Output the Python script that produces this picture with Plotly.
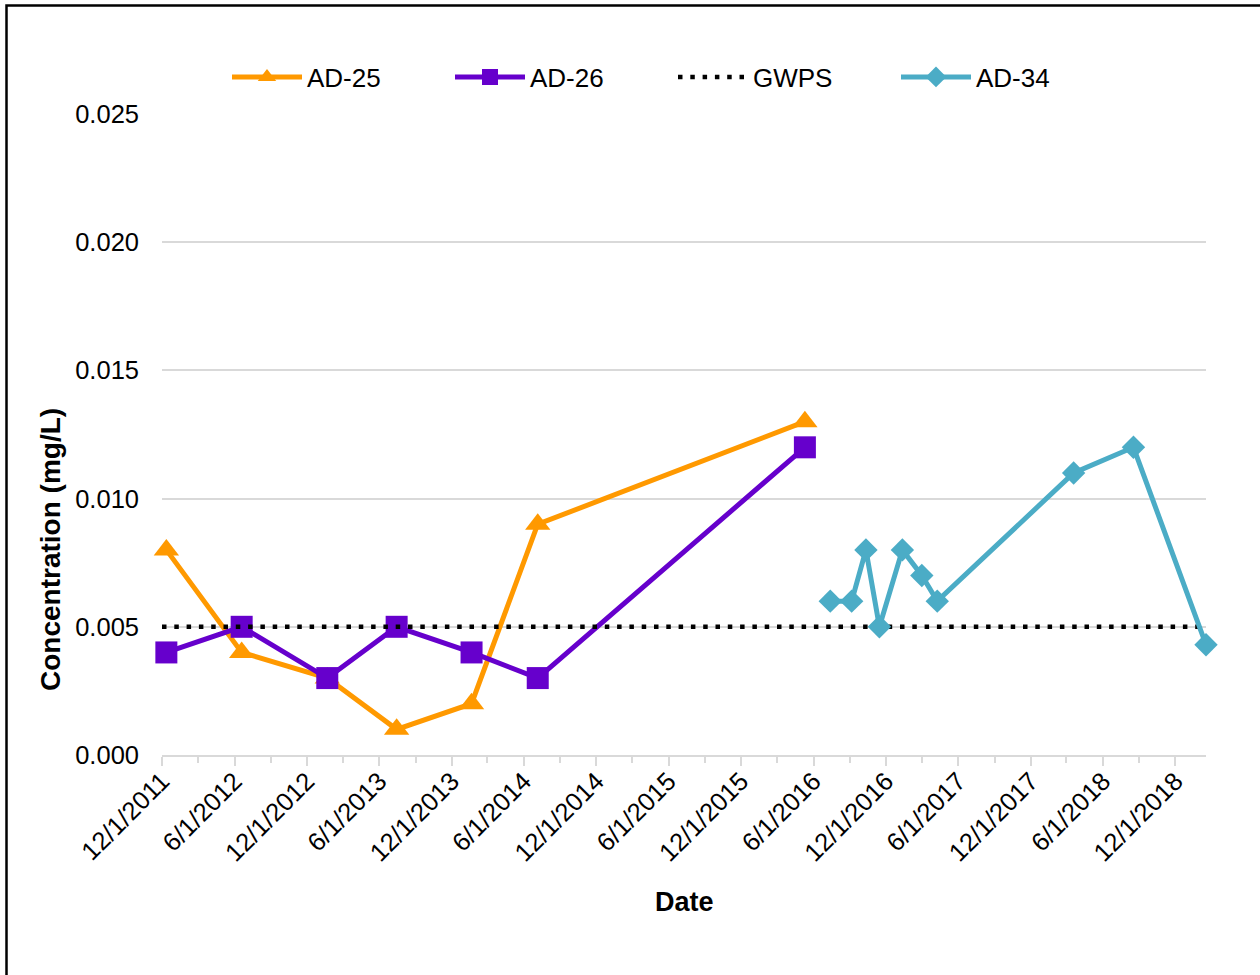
import plotly.graph_objects as go

# ---- data ----
ad_dates = ["2011-12-12", "2012-06-19", "2013-01-21", "2013-07-15",
            "2014-01-20", "2014-07-06", "2016-05-10"]
ad25 = [0.008, 0.004, 0.003, 0.001, 0.002, 0.009, 0.013]
ad26 = [0.004, 0.005, 0.003, 0.005, 0.004, 0.003, 0.012]

ad34_dates = ["2016-07-13", "2016-09-05", "2016-10-11", "2016-11-14",
              "2017-01-11", "2017-03-01", "2017-04-09", "2018-03-19",
              "2018-08-17", "2019-02-16"]
ad34 = [0.006, 0.006, 0.008, 0.005, 0.008, 0.007, 0.006, 0.011, 0.012, 0.0043]

gwps_dates = ["2011-12-01", "2019-02-16"]
gwps = [0.005, 0.005]

x_range = ["2011-12-01", "2019-02-16"]
y_ticks = [0.000, 0.005, 0.010, 0.015, 0.020, 0.025]

ORANGE = "#FF9900"
PURPLE = "#6600CC"
TEAL = "#4BACC6"
GRID = "#D9D9D9"
FONT = "Liberation Sans, Arial, sans-serif"

fig = go.Figure()
fig.add_trace(go.Scatter(
    x=ad_dates, y=ad25, name="AD-25", mode="lines+markers",
    line=dict(color=ORANGE, width=5),
    marker=dict(symbol="triangle-up", size=22, color=ORANGE),
    cliponaxis=False))
fig.add_trace(go.Scatter(
    x=ad_dates, y=ad26, name="AD-26", mode="lines+markers",
    line=dict(color=PURPLE, width=5),
    marker=dict(symbol="square", size=22, color=PURPLE),
    cliponaxis=False))
fig.add_trace(go.Scatter(
    x=gwps_dates, y=gwps, name="GWPS", mode="lines",
    line=dict(color="black", width=4.5, dash="4.5px,7.8px"),
    cliponaxis=False))
fig.add_trace(go.Scatter(
    x=ad34_dates, y=ad34, name="AD-34", mode="lines+markers",
    line=dict(color=TEAL, width=5),
    marker=dict(symbol="diamond", size=18, color=TEAL),
    cliponaxis=False))

SL, SR, ST, SB = 162, 1206, 114, 755   # plot area in pixels
W, H = 1260, 975
pw, ph = SR - SL, SB - ST
L, T = SL, ST
R, B = W - L - pw, H - T - ph

def px_x(p):
    return (p - SL) / pw

def px_y(p):
    return (SB - p) / ph

fig.update_layout(
    width=W, height=H,
    margin=dict(l=L, r=R, t=T, b=B, autoexpand=False),
    paper_bgcolor="white", plot_bgcolor="white",
    font=dict(family=FONT, color="black", size=24),
    showlegend=True,
    legend=dict(
        orientation="h", x=px_x(227), xanchor="left",
        y=px_y(77), yanchor="middle",
        font=dict(family=FONT, size=26, color="black"),
        itemwidth=70, entrywidthmode="pixels", entrywidth=138,
        traceorder="normal", bgcolor="rgba(0,0,0,0)",
        itemclick=False,
    ),
    xaxis=dict(
        type="date", range=x_range,
        tick0="2011-12-01", dtick="M6", tickformat="%-m/%-d/%Y",
        tickangle=-45, tickfont=dict(family=FONT, size=25.5, color="black"),
        ticks="outside", ticklen=9, tickwidth=2, tickcolor=GRID,
        ticklabelstandoff=-10,
        minor=dict(dtick="M3", tick0="2011-12-01", ticks="outside",
                   ticklen=6, tickwidth=2, tickcolor=GRID, showgrid=False),
        showgrid=False, zeroline=False,
        showline=True, linecolor=GRID, linewidth=2,
        automargin=False,
    ),
    xaxis2=dict(
        type="date", range=x_range, overlaying="x", anchor="y", side="bottom",
        tick0="2011-12-01", dtick="M6",
        ticks="inside", ticklen=9, tickwidth=2, tickcolor=GRID,
        showticklabels=False, showgrid=False, zeroline=False, showline=False,
        automargin=False,
    ),
    yaxis=dict(
        range=[0, 0.025], tickvals=y_ticks, tickformat=".3f",
        tickfont=dict(family=FONT, size=25.5, color="black"),
        showgrid=True, gridcolor=GRID, gridwidth=2,
        zeroline=False, showline=False, ticks="", ticklabelstandoff=22,
        automargin=False,
    ),
    annotations=[
        dict(text="<b>Date</b>", xref="paper", yref="paper",
             x=px_x(684.5), y=px_y(902), xanchor="center", yanchor="middle",
             showarrow=False, font=dict(family=FONT, size=27, color="black")),
        dict(text="<b>Concentration (mg/L)</b>", xref="paper", yref="paper",
             x=px_x(50), y=px_y(550), xanchor="center", yanchor="middle",
             textangle=-90, showarrow=False,
             font=dict(family=FONT, size=28, color="black")),
    ],
    shapes=[dict(type="rect", xref="paper", yref="paper",
                 x0=px_x(6.5), x1=px_x(1280), y0=px_y(1000), y1=px_y(5.5),
                 line=dict(color="black", width=2.5), fillcolor="rgba(0,0,0,0)",
                 layer="above")],
)

fig.write_html("out.html",
               config={"displayModeBar": False},
               post_script="document.body.style.margin='0';"
                           "document.body.style.overflow='hidden';")
